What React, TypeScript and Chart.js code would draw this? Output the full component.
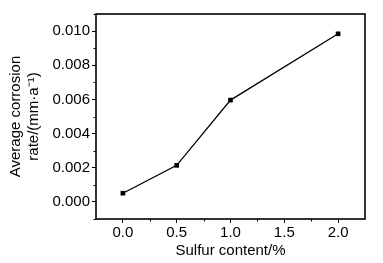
import React, { useEffect, useRef } from "react";
import { Chart, registerables } from "chart.js";

Chart.register(...registerables);

const sulfur = [0.0, 0.5, 1.0, 2.0];
const corrosionRate = [0.00051, 0.00214, 0.00596, 0.00984];
const xTicks = [0.0, 0.5, 1.0, 1.5, 2.0];
const yTicks = [0.0, 0.002, 0.004, 0.006, 0.008, 0.01];
const xMinor = [0.25, 0.75, 1.25, 1.75];
const yMinor = [-0.001, 0.001, 0.003, 0.005, 0.007, 0.009, 0.011];
const xTitle = "Sulfur content/%";
const yTitle = ["Average corrosion", "rate/(mm\u00b7a\u207b\u00b9)"];

const FONT = "'Liberation Sans', Arial, sans-serif";

const framePlugin = {
  id: "frameMinor",
  afterDraw(chart: any) {
    const { ctx, chartArea } = chart;
    const xs = chart.scales.x;
    const ys = chart.scales.y;
    ctx.save();
    ctx.strokeStyle = "#000";
    ctx.lineWidth = 1;
    ctx.beginPath();
    for (const v of xMinor) {
      const px = Math.round(xs.getPixelForValue(v)) + 0.5;
      ctx.moveTo(px, chartArea.bottom);
      ctx.lineTo(px, chartArea.bottom + 2.5);
    }
    for (const v of yMinor) {
      const py = Math.round(ys.getPixelForValue(v)) + 0.5;
      ctx.moveTo(chartArea.left, py);
      ctx.lineTo(chartArea.left - 2.5, py);
    }
    ctx.stroke();
    ctx.lineWidth = 1.6;
    ctx.strokeRect(
      chartArea.left,
      chartArea.top,
      chartArea.right - chartArea.left,
      chartArea.bottom - chartArea.top
    );
    ctx.restore();
  },
};

export default function App() {
  const ref = useRef<HTMLCanvasElement | null>(null);
  useEffect(() => {
    document.body.style.margin = "0";
    const chart = new Chart(ref.current as HTMLCanvasElement, {
      type: "line",
      data: {
        datasets: [
          {
            data: sulfur.map((x, i) => ({ x, y: corrosionRate[i] })),
            borderColor: "#000",
            backgroundColor: "#000",
            borderWidth: 1.3,
            pointStyle: "rect",
            pointRadius: 3.3,
            pointBorderWidth: 0,
            tension: 0,
          },
        ],
      },
      options: {
        animation: false,
        responsive: false,
        maintainAspectRatio: false,
        layout: { padding: { left: 0, right: 18, top: 14, bottom: 0 } },
        plugins: { legend: { display: false }, tooltip: { enabled: false } },
        scales: {
          x: {
            type: "linear",
            min: -0.25,
            max: 2.25,
            afterBuildTicks: (s: any) => {
              s.ticks = xTicks.map((v) => ({ value: v }));
            },
            afterFit: (s: any) => {
              s.height = 44;
            },
            grid: {
              display: true,
              drawOnChartArea: false,
              drawTicks: true,
              tickLength: 4,
              tickColor: "#000",
              tickWidth: 1,
            },
            border: { display: false },
            ticks: {
              color: "#000",
              padding: 1,
              maxRotation: 0,
              font: { family: FONT, size: 15 },
              callback: (v: any) => Number(v).toFixed(1),
            },
            title: {
              display: true,
              text: xTitle,
              color: "#000",
              font: { family: FONT, size: 15 },
              padding: { top: 0, bottom: 3 },
            },
          },
          y: {
            type: "linear",
            min: -0.001,
            max: 0.011,
            afterBuildTicks: (s: any) => {
              s.ticks = yTicks.map((v) => ({ value: v }));
            },
            afterFit: (s: any) => {
              s.width = 96;
            },
            grid: {
              display: true,
              drawOnChartArea: false,
              drawTicks: true,
              tickLength: 4,
              tickColor: "#000",
              tickWidth: 1,
            },
            border: { display: false },
            ticks: {
              color: "#000",
              padding: 2,
              font: { family: FONT, size: 15 },
              callback: (v: any) => Number(v).toFixed(3),
            },
            title: {
              display: true,
              text: yTitle,
              color: "#000",
              font: { family: FONT, size: 15 },
              padding: { top: 7, bottom: 0 },
            },
          },
        },
      },
      plugins: [framePlugin],
    } as any);
    return () => chart.destroy();
  }, []);
  return (
    <div style={{ position: "absolute", left: 0, top: 0, width: 383, height: 263 }}>
      <canvas ref={ref} width={383} height={263} />
    </div>
  );
}
